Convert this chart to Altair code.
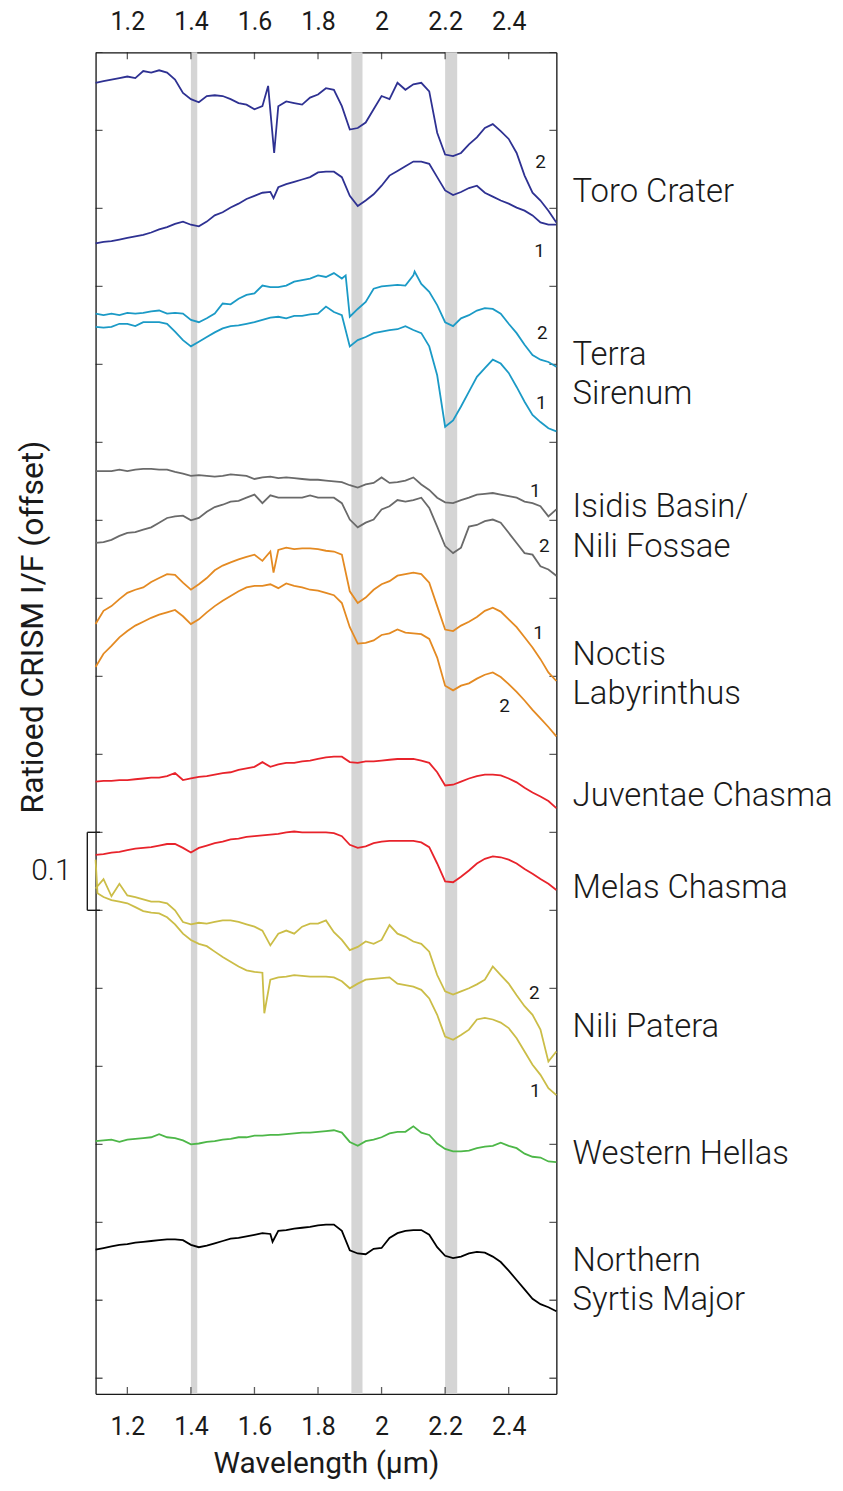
import altair as alt
import pandas as pd

# ---------------- data ----------------
WAVELENGTH = [1.100, 1.125, 1.150, 1.175, 1.200, 1.225, 1.250, 1.275, 1.300, 1.325,
              1.350, 1.375, 1.400, 1.425, 1.450, 1.475, 1.500, 1.525, 1.550, 1.575,
              1.600, 1.625, 1.650, 1.675, 1.700, 1.725, 1.750, 1.775, 1.800, 1.825,
              1.850, 1.875, 1.900, 1.925, 1.950, 1.975, 2.000, 2.025, 2.050, 2.075,
              2.100, 2.125, 2.150, 2.175, 2.200, 2.225, 2.250, 2.275, 2.300, 2.325,
              2.350, 2.375, 2.400, 2.425, 2.450, 2.475, 2.500, 2.525, 2.550]

TORO_2 = [1.661, 1.663, 1.665, 1.667, 1.669, 1.667, 1.676, 1.674, 1.677, 1.674,
          1.665, 1.648, 1.640, 1.636, 1.644, 1.645, 1.644, 1.640, 1.635, 1.633,
          1.627, 1.631, 1.625, 1.631, 1.637, 1.635, 1.633, 1.642, 1.646, 1.654,
          1.652, 1.631, 1.601, 1.603, 1.610, 1.627, 1.644, 1.640, 1.661, 1.652,
          1.659, 1.661, 1.650, 1.597, 1.569, 1.567, 1.571, 1.582, 1.591, 1.603,
          1.608, 1.599, 1.589, 1.571, 1.542, 1.520, 1.510, 1.497, 1.482]
TORO_2_EXTRA = [(1.643, 1.657), (1.662, 1.571)]

TORO_1 = [1.455, 1.457, 1.458, 1.460, 1.462, 1.464, 1.466, 1.469, 1.473, 1.476,
          1.480, 1.483, 1.479, 1.477, 1.483, 1.491, 1.495, 1.501, 1.506, 1.512,
          1.516, 1.520, 1.521, 1.527, 1.531, 1.534, 1.537, 1.540, 1.546, 1.547,
          1.547, 1.540, 1.516, 1.503, 1.510, 1.518, 1.529, 1.542, 1.548, 1.554,
          1.560, 1.560, 1.557, 1.540, 1.523, 1.517, 1.521, 1.526, 1.529, 1.520,
          1.515, 1.510, 1.506, 1.501, 1.497, 1.491, 1.482, 1.479, 1.479]
TORO_1_EXTRA = [(1.660, 1.513)]

TERRA_2 = [1.365, 1.363, 1.365, 1.363, 1.366, 1.365, 1.366, 1.368, 1.369, 1.365,
           1.366, 1.365, 1.357, 1.354, 1.359, 1.365, 1.378, 1.377, 1.384, 1.389,
           1.391, 1.401, 1.399, 1.399, 1.401, 1.406, 1.408, 1.410, 1.414, 1.412,
           1.417, 1.410, 1.361, 1.371, 1.380, 1.397, 1.400, 1.401, 1.402, 1.401,
           1.414, 1.403, 1.393, 1.376, 1.354, 1.349, 1.359, 1.363, 1.369, 1.372,
           1.371, 1.365, 1.352, 1.340, 1.325, 1.312, 1.306, 1.303, 1.297]
TERRA_2_EXTRA = [(1.887, 1.414), (2.104, 1.419)]

TERRA_1 = [1.348, 1.347, 1.348, 1.352, 1.352, 1.349, 1.354, 1.354, 1.354, 1.352,
           1.342, 1.331, 1.323, 1.329, 1.335, 1.341, 1.346, 1.349, 1.350, 1.352,
           1.354, 1.357, 1.360, 1.361, 1.359, 1.362, 1.362, 1.364, 1.365, 1.374,
           1.367, 1.363, 1.323, 1.331, 1.335, 1.340, 1.342, 1.344, 1.345, 1.349,
           1.344, 1.340, 1.323, 1.286, 1.220, 1.228, 1.246, 1.265, 1.284, 1.295,
           1.306, 1.301, 1.289, 1.271, 1.252, 1.235, 1.226, 1.218, 1.214]
TERRA_1_EXTRA = []

ISIDIS_1 = [1.163, 1.163, 1.163, 1.165, 1.163, 1.165, 1.166, 1.166, 1.165, 1.165,
            1.162, 1.160, 1.157, 1.158, 1.157, 1.156, 1.157, 1.159, 1.158, 1.157,
            1.153, 1.155, 1.156, 1.154, 1.155, 1.154, 1.153, 1.152, 1.152, 1.151,
            1.150, 1.149, 1.145, 1.142, 1.146, 1.148, 1.155, 1.148, 1.149, 1.151,
            1.155, 1.146, 1.139, 1.129, 1.123, 1.122, 1.126, 1.129, 1.133, 1.134,
            1.135, 1.133, 1.131, 1.129, 1.124, 1.122, 1.118, 1.105, 1.114]
ISIDIS_1_EXTRA = []

ISIDIS_2 = [1.071, 1.072, 1.075, 1.080, 1.084, 1.085, 1.088, 1.091, 1.097, 1.103,
            1.105, 1.106, 1.100, 1.103, 1.111, 1.117, 1.120, 1.124, 1.125, 1.129,
            1.133, 1.122, 1.132, 1.129, 1.129, 1.129, 1.129, 1.132, 1.129, 1.129,
            1.129, 1.122, 1.101, 1.091, 1.097, 1.101, 1.114, 1.118, 1.126, 1.124,
            1.126, 1.129, 1.116, 1.092, 1.067, 1.058, 1.065, 1.092, 1.094, 1.099,
            1.101, 1.097, 1.084, 1.071, 1.058, 1.056, 1.041, 1.037, 1.029]
ISIDIS_2_EXTRA = []

NOCTIS_1 = [0.967, 0.984, 0.990, 0.999, 1.007, 1.011, 1.014, 1.021, 1.026, 1.031,
            1.030, 1.020, 1.011, 1.018, 1.026, 1.036, 1.042, 1.046, 1.050, 1.053,
            1.056, 1.048, 1.060, 1.062, 1.065, 1.063, 1.064, 1.064, 1.063, 1.061,
            1.060, 1.056, 1.009, 0.994, 1.001, 1.011, 1.018, 1.022, 1.029, 1.031,
            1.033, 1.031, 1.020, 0.990, 0.960, 0.958, 0.965, 0.970, 0.976, 0.984,
            0.988, 0.983, 0.973, 0.963, 0.950, 0.937, 0.922, 0.905, 0.894]
NOCTIS_1_EXTRA = [(1.660, 1.033)]

NOCTIS_2 = [0.912, 0.929, 0.939, 0.950, 0.958, 0.965, 0.970, 0.975, 0.979, 0.982,
            0.985, 0.977, 0.967, 0.973, 0.982, 0.990, 0.997, 1.003, 1.009, 1.014,
            1.016, 1.016, 1.018, 1.013, 1.019, 1.016, 1.014, 1.011, 1.010, 1.007,
            1.004, 0.994, 0.963, 0.942, 0.943, 0.946, 0.953, 0.955, 0.960, 0.956,
            0.955, 0.954, 0.948, 0.924, 0.888, 0.882, 0.888, 0.891, 0.897, 0.902,
            0.905, 0.899, 0.890, 0.880, 0.869, 0.857, 0.846, 0.835, 0.823]
NOCTIS_2_EXTRA = []

JUVENTAE = [0.765, 0.766, 0.766, 0.767, 0.767, 0.768, 0.769, 0.770, 0.770, 0.772,
            0.776, 0.767, 0.769, 0.771, 0.772, 0.774, 0.776, 0.777, 0.780, 0.782,
            0.784, 0.790, 0.784, 0.787, 0.789, 0.789, 0.791, 0.792, 0.794, 0.796,
            0.797, 0.797, 0.790, 0.789, 0.791, 0.791, 0.792, 0.793, 0.794, 0.794,
            0.794, 0.792, 0.789, 0.777, 0.760, 0.761, 0.765, 0.769, 0.772, 0.774,
            0.774, 0.773, 0.769, 0.764, 0.757, 0.751, 0.746, 0.740, 0.731]
JUVENTAE_EXTRA = []

MELAS = [0.671, 0.672, 0.674, 0.675, 0.677, 0.679, 0.680, 0.681, 0.683, 0.685,
         0.685, 0.680, 0.674, 0.680, 0.683, 0.686, 0.688, 0.691, 0.692, 0.694,
         0.695, 0.696, 0.697, 0.698, 0.700, 0.701, 0.700, 0.700, 0.700, 0.700,
         0.699, 0.695, 0.684, 0.680, 0.682, 0.686, 0.688, 0.689, 0.689, 0.689,
         0.689, 0.687, 0.681, 0.660, 0.637, 0.636, 0.643, 0.651, 0.660, 0.666,
         0.669, 0.668, 0.665, 0.660, 0.653, 0.647, 0.640, 0.634, 0.626]
MELAS_EXTRA = []

NILI_2 = [0.628, 0.640, 0.618, 0.634, 0.619, 0.617, 0.614, 0.611, 0.611, 0.609,
          0.600, 0.585, 0.582, 0.584, 0.583, 0.585, 0.587, 0.587, 0.585, 0.582,
          0.579, 0.574, 0.555, 0.570, 0.574, 0.570, 0.579, 0.583, 0.583, 0.587,
          0.572, 0.562, 0.549, 0.553, 0.560, 0.557, 0.562, 0.581, 0.570, 0.566,
          0.560, 0.557, 0.547, 0.517, 0.496, 0.492, 0.496, 0.500, 0.505, 0.511,
          0.528, 0.517, 0.506, 0.491, 0.477, 0.466, 0.447, 0.406, 0.419]
NILI_2_EXTRA = []

NILI_1 = [0.665, 0.617, 0.613, 0.611, 0.609, 0.604, 0.599, 0.597, 0.596, 0.591,
          0.582, 0.570, 0.562, 0.557, 0.554, 0.547, 0.540, 0.534, 0.528, 0.523,
          0.521, 0.520, 0.511, 0.514, 0.515, 0.517, 0.516, 0.515, 0.515, 0.515,
          0.514, 0.509, 0.500, 0.506, 0.511, 0.512, 0.513, 0.514, 0.506, 0.504,
          0.502, 0.498, 0.487, 0.466, 0.438, 0.434, 0.440, 0.447, 0.460, 0.462,
          0.460, 0.456, 0.449, 0.436, 0.419, 0.402, 0.389, 0.372, 0.363]
NILI_1_EXTRA = [(1.106, 0.622), (1.631, 0.468)]

HELLAS = [0.304, 0.305, 0.306, 0.303, 0.306, 0.307, 0.308, 0.309, 0.313, 0.309,
          0.308, 0.305, 0.300, 0.301, 0.303, 0.304, 0.306, 0.307, 0.309, 0.309,
          0.311, 0.311, 0.312, 0.312, 0.313, 0.314, 0.315, 0.315, 0.316, 0.317,
          0.318, 0.315, 0.303, 0.298, 0.304, 0.306, 0.309, 0.314, 0.316, 0.316,
          0.323, 0.315, 0.312, 0.301, 0.294, 0.291, 0.291, 0.292, 0.295, 0.297,
          0.298, 0.302, 0.298, 0.295, 0.288, 0.284, 0.283, 0.278, 0.277]
HELLAS_EXTRA = []

SYRTIS = [0.165, 0.167, 0.169, 0.171, 0.172, 0.174, 0.175, 0.176, 0.177, 0.178,
          0.178, 0.177, 0.171, 0.168, 0.170, 0.173, 0.176, 0.179, 0.180, 0.182,
          0.184, 0.186, 0.185, 0.189, 0.190, 0.192, 0.193, 0.194, 0.196, 0.197,
          0.197, 0.189, 0.164, 0.160, 0.159, 0.166, 0.167, 0.180, 0.186, 0.189,
          0.190, 0.190, 0.184, 0.168, 0.157, 0.154, 0.156, 0.160, 0.162, 0.161,
          0.156, 0.149, 0.138, 0.126, 0.114, 0.102, 0.095, 0.091, 0.086]
SYRTIS_EXTRA = [(1.657, 0.175)]

SERIES_NAMES = ["Toro 2", "Toro 1", "Terra 2", "Terra 1", "Isidis 1", "Isidis 2",
                "Noctis 1", "Noctis 2", "Juventae", "Melas", "Nili 2", "Nili 1",
                "Hellas", "Syrtis"]
SERIES_COLORS = ["#2E3192", "#2E3192", "#1B9AC6", "#1B9AC6", "#6A6A6A", "#6A6A6A",
                 "#E48A22", "#E48A22", "#E8232B", "#E8232B", "#CBBD47", "#CBBD47",
                 "#4DB748", "#000000"]
SERIES_VALUES = [TORO_2, TORO_1, TERRA_2, TERRA_1, ISIDIS_1, ISIDIS_2, NOCTIS_1,
                 NOCTIS_2, JUVENTAE, MELAS, NILI_2, NILI_1, HELLAS, SYRTIS]
SERIES_EXTRAS = [TORO_2_EXTRA, TORO_1_EXTRA, TERRA_2_EXTRA, TERRA_1_EXTRA,
                 ISIDIS_1_EXTRA, ISIDIS_2_EXTRA, NOCTIS_1_EXTRA, NOCTIS_2_EXTRA,
                 JUVENTAE_EXTRA, MELAS_EXTRA, NILI_2_EXTRA, NILI_1_EXTRA,
                 HELLAS_EXTRA, SYRTIS_EXTRA]

BAND_START = [1.400, 1.905, 2.200]
BAND_END = [1.420, 1.940, 2.238]

X_TICKS = [1.2, 1.4, 1.6, 1.8, 2.0, 2.2, 2.4]
Y_TICKS = [0.0, 0.1, 0.2, 0.3, 0.4, 0.5, 0.6, 0.7, 0.8, 0.9,
           1.0, 1.1, 1.2, 1.3, 1.4, 1.5, 1.6, 1.7]
X_DOMAIN = [1.1, 2.55]
Y_DOMAIN = [-0.02, 1.70]

SITE_LABELS = ["Toro Crater", "Terra", "Sirenum", "Isidis Basin/", "Nili Fossae",
               "Noctis", "Labyrinthus", "Juventae Chasma", "Melas Chasma",
               "Nili Patera", "Western Hellas", "Northern", "Syrtis Major"]
SITE_LABEL_Y = [1.521, 1.312, 1.262, 1.117, 1.066, 0.927, 0.877, 0.746, 0.628,
                0.450, 0.288, 0.150, 0.100]
SITE_LABEL_X = 2.601

NUM_TEXT = ["2", "1", "2", "1", "1", "2", "1", "2", "2", "1"]
NUM_X = [2.500, 2.497, 2.506, 2.503, 2.484, 2.512, 2.494, 2.387, 2.481, 2.484]
NUM_Y = [1.560, 1.445, 1.340, 1.251, 1.137, 1.067, 0.955, 0.862, 0.4945, 0.368]

SCALE_BAR_X = [1.074, 1.114]
SCALE_BAR_Y = [0.60, 0.70]
SCALE_BAR_LABEL = "0.1"
SCALE_BAR_LABEL_X = 0.961

FONT = "Roboto"
INK = "#1a1a1a"

# ---------------- tables ----------------
rows = []
for name, vals, extra in zip(SERIES_NAMES, SERIES_VALUES, SERIES_EXTRAS):
    pts = list(zip(WAVELENGTH, vals)) + list(extra)
    pts.sort(key=lambda p: p[0])
    for k, (w, v) in enumerate(pts):
        rows.append({"series": name, "wl": w, "v": v, "k": k})
lines_df = pd.DataFrame(rows)

bands_df = pd.DataFrame({"start": BAND_START, "end": BAND_END})
xt_df = pd.DataFrame({"x": X_TICKS * 2,
                      "y": [Y_DOMAIN[0]] * len(X_TICKS) + [Y_DOMAIN[1]] * len(X_TICKS)})
yt_df = pd.DataFrame({"y": Y_TICKS * 2,
                      "x": [X_DOMAIN[0]] * len(Y_TICKS) + [X_DOMAIN[1]] * len(Y_TICKS)})
labels_df = pd.DataFrame({"text": SITE_LABELS, "y": SITE_LABEL_Y,
                          "x": [SITE_LABEL_X] * len(SITE_LABELS)})
nums_df = pd.DataFrame({"text": NUM_TEXT, "x": NUM_X, "y": NUM_Y})
bar_df = pd.DataFrame({
    "x": [SCALE_BAR_X[0], SCALE_BAR_X[0], SCALE_BAR_X[0]],
    "x2": [SCALE_BAR_X[0], SCALE_BAR_X[1], SCALE_BAR_X[1]],
    "y": [SCALE_BAR_Y[0], SCALE_BAR_Y[0], SCALE_BAR_Y[1]],
    "y2": [SCALE_BAR_Y[1], SCALE_BAR_Y[0], SCALE_BAR_Y[1]],
})
bar_label_df = pd.DataFrame({"text": [SCALE_BAR_LABEL], "x": [SCALE_BAR_LABEL_X],
                             "y": [sum(SCALE_BAR_Y) / 2]})

xs = alt.Scale(domain=X_DOMAIN, nice=False, zero=False)
ys = alt.Scale(domain=Y_DOMAIN, nice=False, zero=False)

common_axis = dict(ticks=False, tickSize=0, grid=False, domain=True,
                   domainColor=INK, domainWidth=1.3)

bottom_axis = alt.Axis(orient="bottom", values=X_TICKS, format="~g",
                       labelFont=FONT, labelFontSize=25, labelColor=INK,
                       labelPadding=21,
                       title="Wavelength (µm)", titleFont=FONT, titleFontSize=30,
                       titleFontWeight="normal", titleColor=INK,
                       titleBaseline="alphabetic", titleY=79, **common_axis)
top_axis = alt.Axis(orient="top", values=X_TICKS, format="~g",
                    labelFont=FONT, labelFontSize=25, labelColor=INK,
                    labelPadding=18, title=None, **common_axis)
left_axis = alt.Axis(orient="left", labels=False,
                     title="Ratioed CRISM I/F (offset)", titleFont=FONT,
                     titleFontSize=32, titleFontWeight="normal", titleColor=INK,
                     titleAngle=270, titleX=-63, titleY=577, titleAlign="center",
                     titleBaseline="middle", **common_axis)
right_axis = alt.Axis(orient="right", labels=False, title=None, **common_axis)

bands = alt.Chart(bands_df).mark_rect(color="#D5D5D5").encode(
    x=alt.X("start:Q", scale=xs, axis=None), x2="end:Q")

xticks = alt.Chart(xt_df).mark_tick(orient="vertical", size=14, thickness=1.3,
                                    color=INK, clip=True).encode(
    x=alt.X("x:Q", scale=xs, axis=top_axis),
    y=alt.Y("y:Q", scale=ys, axis=None))

yticks = alt.Chart(yt_df).mark_tick(orient="horizontal", size=14, thickness=1.3,
                                    color=INK, clip=True).encode(
    x=alt.X("x:Q", scale=xs, axis=None),
    y=alt.Y("y:Q", scale=ys, axis=right_axis))

lines = alt.Chart(lines_df).mark_line(strokeWidth=1.8).encode(
    x=alt.X("wl:Q", scale=xs, axis=bottom_axis),
    y=alt.Y("v:Q", scale=ys, axis=left_axis),
    color=alt.Color("series:N", scale=alt.Scale(domain=SERIES_NAMES, range=SERIES_COLORS),
                    legend=None),
    detail="series:N",
    order="k:Q")

labels = alt.Chart(labels_df).mark_text(align="left", baseline="middle", font=FONT,
                                        fontSize=33, fontWeight=300, color=INK).encode(
    x=alt.X("x:Q", scale=xs, axis=None), y=alt.Y("y:Q", scale=ys, axis=None),
    text="text:N")

nums = alt.Chart(nums_df).mark_text(align="center", baseline="middle", font=FONT,
                                    fontSize=19, color=INK).encode(
    x=alt.X("x:Q", scale=xs, axis=None), y=alt.Y("y:Q", scale=ys, axis=None),
    text="text:N")

bar = alt.Chart(bar_df).mark_rule(color=INK, strokeWidth=1.4).encode(
    x=alt.X("x:Q", scale=xs, axis=None), x2="x2:Q",
    y=alt.Y("y:Q", scale=ys, axis=None), y2="y2:Q")

bar_label = alt.Chart(bar_label_df).mark_text(align="center", baseline="middle",
                                              font=FONT, fontSize=30, fontWeight=300,
                                              color=INK).encode(
    x=alt.X("x:Q", scale=xs, axis=None), y=alt.Y("y:Q", scale=ys, axis=None),
    text="text:N")

chart = alt.layer(bands, yticks, xticks, lines, bar, labels, nums, bar_label).resolve_axis(
    x="independent", y="independent"
).properties(
    width=463, height=1348,
    padding={"left": 88, "top": 41, "right": 280, "bottom": 86},
    autosize=alt.AutoSizeParams(type="none"),
).configure_view(strokeWidth=0).configure(background="white")

chart.save("out.html", embed_options={"renderer": "svg", "actions": False})
